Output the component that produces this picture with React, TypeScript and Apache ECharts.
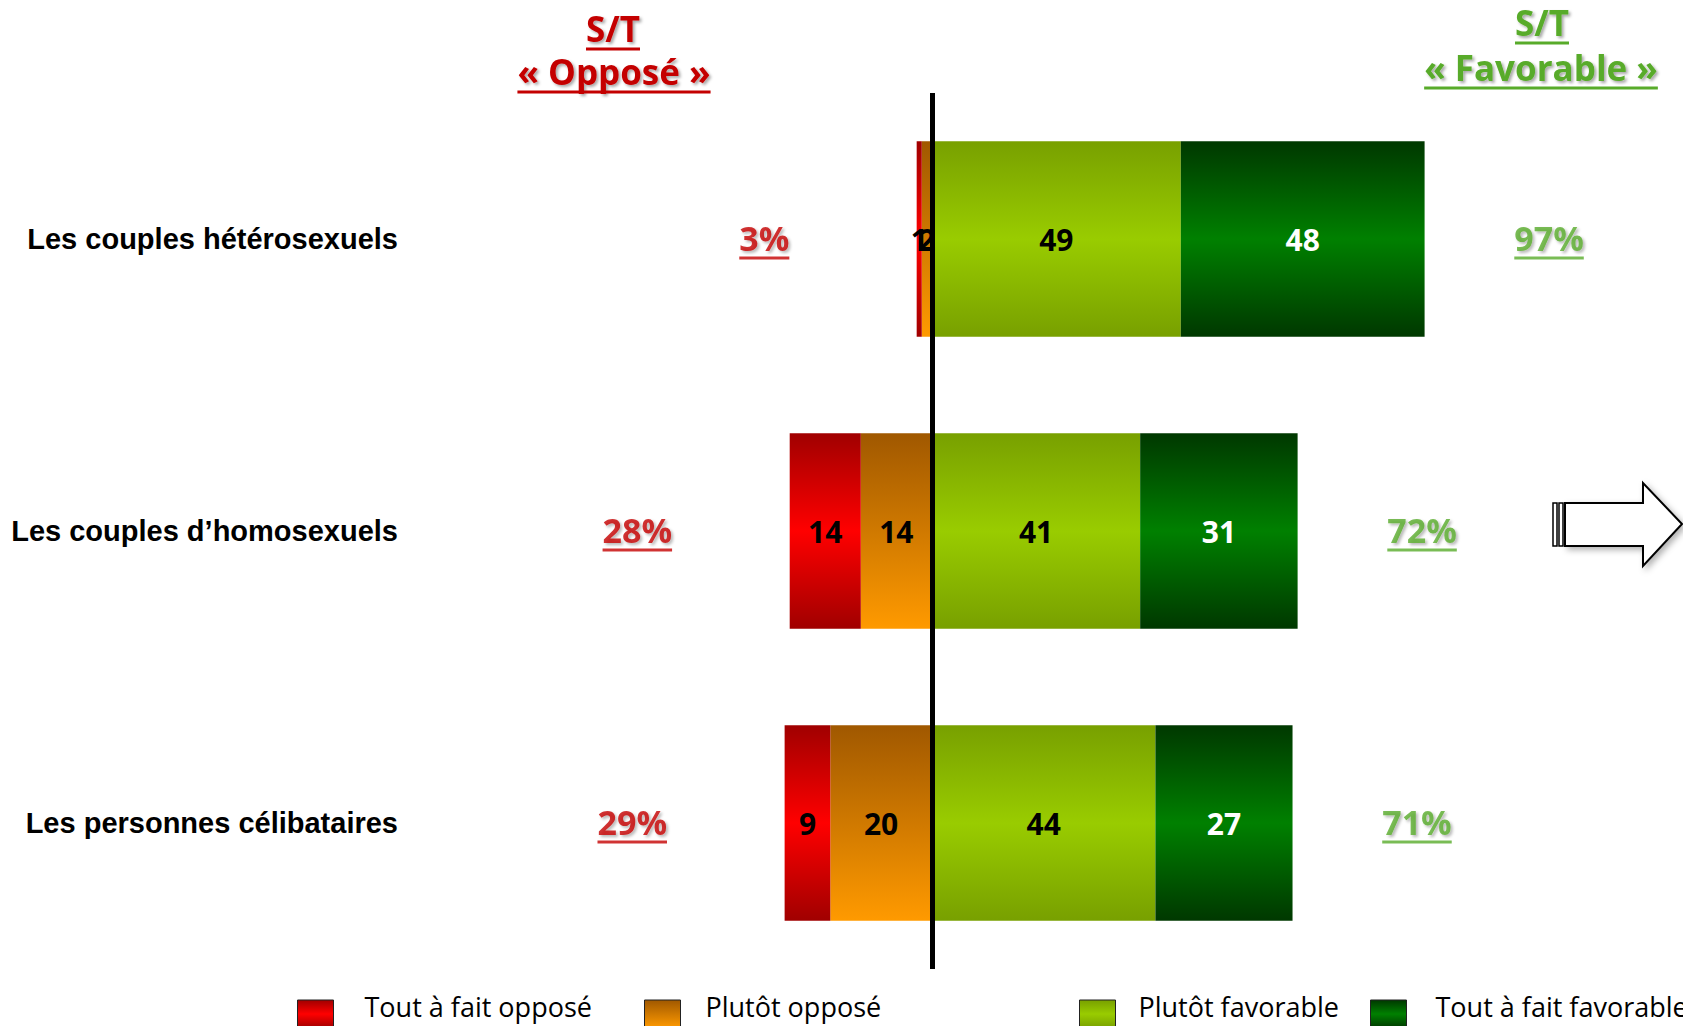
import React, { useEffect, useRef } from "react";
import * as echarts from "echarts";

const categories = ["Les couples hétérosexuels", "Les couples d’homosexuels", "Les personnes célibataires"];
const seriesNames = ["Tout à fait opposé", "Plutôt opposé", "Plutôt favorable", "Tout à fait favorable"];
const toutOppose = [1, 14, 9];
const plutotOppose = [2, 14, 20];
const plutotFavorable = [49, 41, 44];
const toutFavorable = [48, 31, 27];

const RED = "#c40000";
const GREEN = "#58ab2a";
const BAR_FONT = "Open Sans";

const grad = (stops: [number, string][]) =>
  new echarts.graphic.LinearGradient(0, 0, 0, 1, stops.map(([offset, color]) => ({ offset, color })));

const colRed = grad([[0, "#a00000"], [0.5, "#ff0000"], [1, "#a00000"]]);
const colOrange = grad([[0, "#a05800"], [1, "#ff9a00"]]);
const colLight = grad([[0, "#78a000"], [0.5, "#99cc00"], [1, "#78a000"]]);
const colDark = grad([[0, "#003800"], [0.5, "#008000"], [1, "#003800"]]);

export default function App() {
  const ref = useRef<HTMLDivElement>(null);
  useEffect(() => {
    if (!ref.current) return;
    const chart = echarts.init(ref.current, null, { renderer: "svg" });
    const oppTotals = categories.map((_, i) => toutOppose[i] + plutotOppose[i]);
    const favTotals = categories.map((_, i) => plutotFavorable[i] + toutFavorable[i]);

    const barLabel = (color: string) => ({
      show: true,
      position: "inside",
      formatter: (p: any) => String(Math.abs(p.value)),
      color,
      fontSize: 30,
      fontWeight: "bold",
      fontFamily: BAR_FONT,
    });
    const bar = (name: string, values: number[], sign: number, color: any, labelColor: string) => ({
      name,
      type: "bar",
      stack: "total",
      barCategoryGap: "33%",
      data: values.map((v) => sign * v),
      itemStyle: { color },
      label: barLabel(labelColor),
    });
    const shadow = {
      textShadowColor: "rgba(0,0,0,0.35)",
      textShadowBlur: 3,
      textShadowOffsetX: 2,
      textShadowOffsetY: 2,
    };
    const pctSeries = (totals: number[], sign: number, offset: number, color: string, extra: any = {}) => ({
      type: "scatter",
      silent: true,
      symbolSize: 1,
      itemStyle: { color: "transparent" },
      z: 5,
      data: totals.map((t, i) => [sign * (t + offset), i]),
      label: {
        show: true,
        position: "inside",
        formatter: (p: any) => `{t|${totals[p.dataIndex]}%}\n{u|}`,
        rich: {
          t: { color, fontSize: 34, fontWeight: "bold", fontFamily: BAR_FONT, lineHeight: 38, ...shadow },
          u: { align: "left", width: "100%", height: 3, lineHeight: 3, backgroundColor: color },
        },
      },
      ...extra,
    });

    const header = (x: number, y: number, text: string, color: string) => ({
      type: "text",
      x,
      y,
      z: 20,
      style: {
        text: `{t|${text}}\n{u|}`,
        align: "center",
        verticalAlign: "middle",
        rich: {
          t: { fill: color, fontSize: 35, fontWeight: "bold", fontFamily: BAR_FONT, lineHeight: 38, ...shadow },
          u: { align: "left", width: "100%", height: 3, lineHeight: 3, backgroundColor: color },
        },
      },
    });

    const legendLayout = [
      { left: 292, pad: 26 },
      { left: 639, pad: 20 },
      { left: 1074, pad: 18 },
      { left: 1365, pad: 24 },
    ];

    chart.setOption({
      animation: false,
      grid: { left: 424, right: 40, top: 93, bottom: 57, containLabel: false, outerBoundsMode: "none" },
      xAxis: { type: "value", min: -100, max: 140, show: false },
      yAxis: {
        type: "category",
        data: categories,
        inverse: true,
        axisLine: { show: false, onZero: false },
        axisTick: { show: false },
        axisLabel: {
          margin: 26,
          fontSize: 29,
          fontWeight: "bold",
          fontFamily: "Liberation Sans",
          color: "#000",
        },
      },
      legend: legendLayout.map((l, i) => ({
        data: [seriesNames[i]],
        left: l.left,
        top: 988,
        icon: "rect",
        itemWidth: 36,
        itemHeight: 28,
        selectedMode: false,
        itemStyle: { borderColor: "#222", borderWidth: 1 },
        formatter: (name: string) => `{a|${name}}\n{b|}`,
        textStyle: {
          fontFamily: "Open Sans",
          fontSize: 27,
          color: "#000",
          padding: [0, 0, 0, l.pad],
          rich: {
            a: { fontFamily: "Open Sans", fontSize: 27, color: "#000", lineHeight: 30 },
            b: { height: 15, lineHeight: 15 },
          },
        },
      })),
      series: [
        bar(seriesNames[1], plutotOppose, -1, colOrange, "#000"),
        bar(seriesNames[0], toutOppose, -1, colRed, "#000"),
        bar(seriesNames[2], plutotFavorable, 1, colLight, "#000"),
        bar(seriesNames[3], toutFavorable, 1, colDark, "#fff"),
        pctSeries(oppTotals, -1, 30, RED, {
          markLine: {
            silent: true,
            symbol: "none",
            animation: false,
            label: { show: false },
            lineStyle: { color: "#000", width: 5, type: "solid" },
            data: [{ xAxis: 0 }],
          },
        }),
        pctSeries(favTotals, 1, 24.5, GREEN),
      ],
      graphic: [
        header(613, 30, "S/T", RED),
        header(614, 73, "« Opposé »", RED),
        header(1542, 24, "S/T", GREEN),
        header(1541, 69, "« Favorable »", GREEN),
        {
          type: "polygon",
          z: 20,
          shape: {
            points: [
              [1565, 503],
              [1643, 503],
              [1643, 483],
              [1682, 524],
              [1643, 566],
              [1643, 546],
              [1565, 546],
            ],
          },
          style: {
            fill: "#fff",
            stroke: "#000",
            lineWidth: 2,
            shadowBlur: 6,
            shadowColor: "rgba(0,0,0,0.3)",
            shadowOffsetX: 3,
            shadowOffsetY: 3,
          },
        },
        {
          type: "rect",
          z: 20,
          shape: { x: 1553, y: 503, width: 4, height: 43 },
          style: { fill: "#fff", stroke: "#000", lineWidth: 1.5 },
        },
        {
          type: "rect",
          z: 20,
          shape: { x: 1559, y: 503, width: 4, height: 43 },
          style: { fill: "#fff", stroke: "#000", lineWidth: 1.5 },
        },
      ],
    });
    return () => chart.dispose();
  }, []);
  return (
    <div
      ref={ref}
      style={{ position: "fixed", left: 0, top: 0, width: 1683, height: 1026, background: "#fff" }}
    />
  );
}
